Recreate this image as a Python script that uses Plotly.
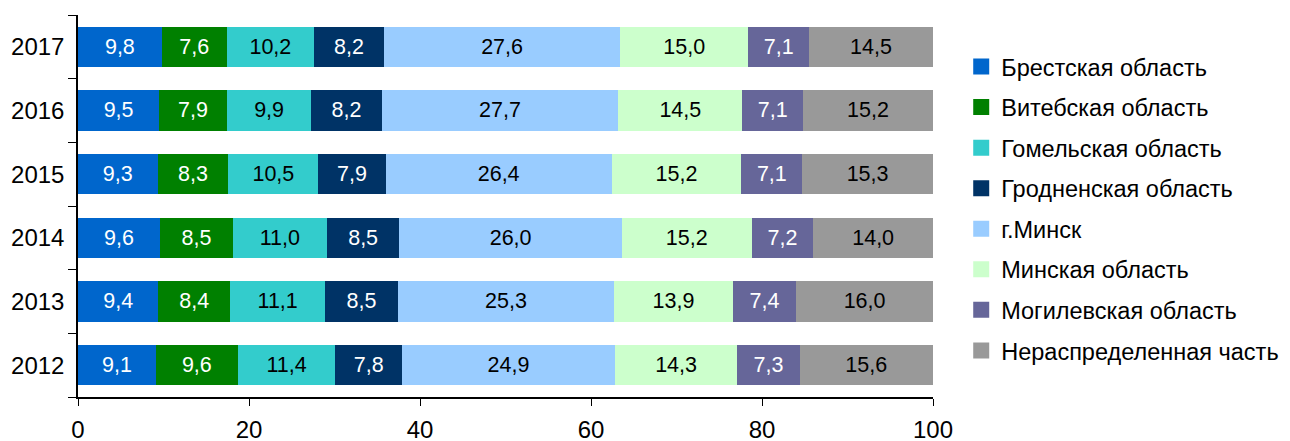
import plotly.graph_objects as go

years = ["2012", "2013", "2014", "2015", "2016", "2017"]
regions = ["Брестская область", "Витебская область", "Гомельская область",
           "Гродненская область", "г.Минск", "Минская область",
           "Могилевская область", "Нераспределенная часть"]
brest = [9.1, 9.4, 9.6, 9.3, 9.5, 9.8]
vitebsk = [9.6, 8.4, 8.5, 8.3, 7.9, 7.6]
gomel = [11.4, 11.1, 11.0, 10.5, 9.9, 10.2]
grodno = [7.8, 8.5, 8.5, 7.9, 8.2, 8.2]
minsk_city = [24.9, 25.3, 26.0, 26.4, 27.7, 27.6]
minsk_obl = [14.3, 13.9, 15.2, 15.2, 14.5, 15.0]
mogilev = [7.3, 7.4, 7.2, 7.1, 7.1, 7.1]
unalloc = [15.6, 16.0, 14.0, 15.3, 15.2, 14.5]
series = [brest, vitebsk, gomel, grodno, minsk_city, minsk_obl, mogilev, unalloc]
colors = ["#0066CC", "#008000", "#33CCCC", "#003366", "#99CCFF", "#CCFFCC", "#666699", "#999999"]
text_colors = ["white", "white", "black", "white", "black", "black", "white", "black"]
x_ticks = [0, 20, 40, 60, 80, 100]

FONT = "Liberation Sans, Arial, sans-serif"

fig = go.Figure()
for name, vals, col, tcol in zip(regions, series, colors, text_colors):
    fig.add_trace(go.Bar(
        y=years, x=vals, name=name, orientation="h",
        marker=dict(color=col, line=dict(width=0)),
        texttemplate="%{x:.1f}", textposition="inside",
        insidetextanchor="middle", textangle=0,
        textfont=dict(size=21.5, color=tcol, family=FONT),
        showlegend=False, hoverinfo="skip",
    ))
for i, (name, col) in enumerate(zip(regions, colors)):
    fig.add_trace(go.Scatter(
        x=[None], y=[None], mode="markers", name=name,
        marker=dict(symbol="square", size=16, color=col, line=dict(width=0)),
        legendgroup="g%d" % i, showlegend=True,
    ))

# the page body has an 8px default margin, so the figure is offset by 8px
fig.update_layout(
    width=1282, height=441,
    barmode="stack", bargap=0.37,
    separators=", ",
    plot_bgcolor="white", paper_bgcolor="white",
    margin=dict(l=70, r=357, t=7, b=52, autoexpand=False),
    font=dict(family=FONT, size=24, color="black"),
    legend=dict(x=1.033, y=0.922, xanchor="left", yanchor="top",
                traceorder="grouped", tracegroupgap=7,
                font=dict(size=23.5, family=FONT), itemwidth=30,
                bgcolor="rgba(0,0,0,0)"),
    xaxis=dict(range=[0, 100], tickvals=x_ticks, ticks="outside", ticklen=7,
               tickcolor="black", showline=True, linecolor="black", linewidth=1.5,
               showgrid=False, zeroline=False, tickfont=dict(size=24),
               automargin=False, ticklabelstandoff=3),
    yaxis=dict(type="category", categoryorder="array", categoryarray=years,
               tickson="boundaries", ticks="outside", ticklen=8, tickcolor="black",
               showline=True, linecolor="black", linewidth=1.5, showgrid=False,
               tickfont=dict(size=24), automargin=False, ticklabelstandoff=7),
)

fig.write_html("out.html")
